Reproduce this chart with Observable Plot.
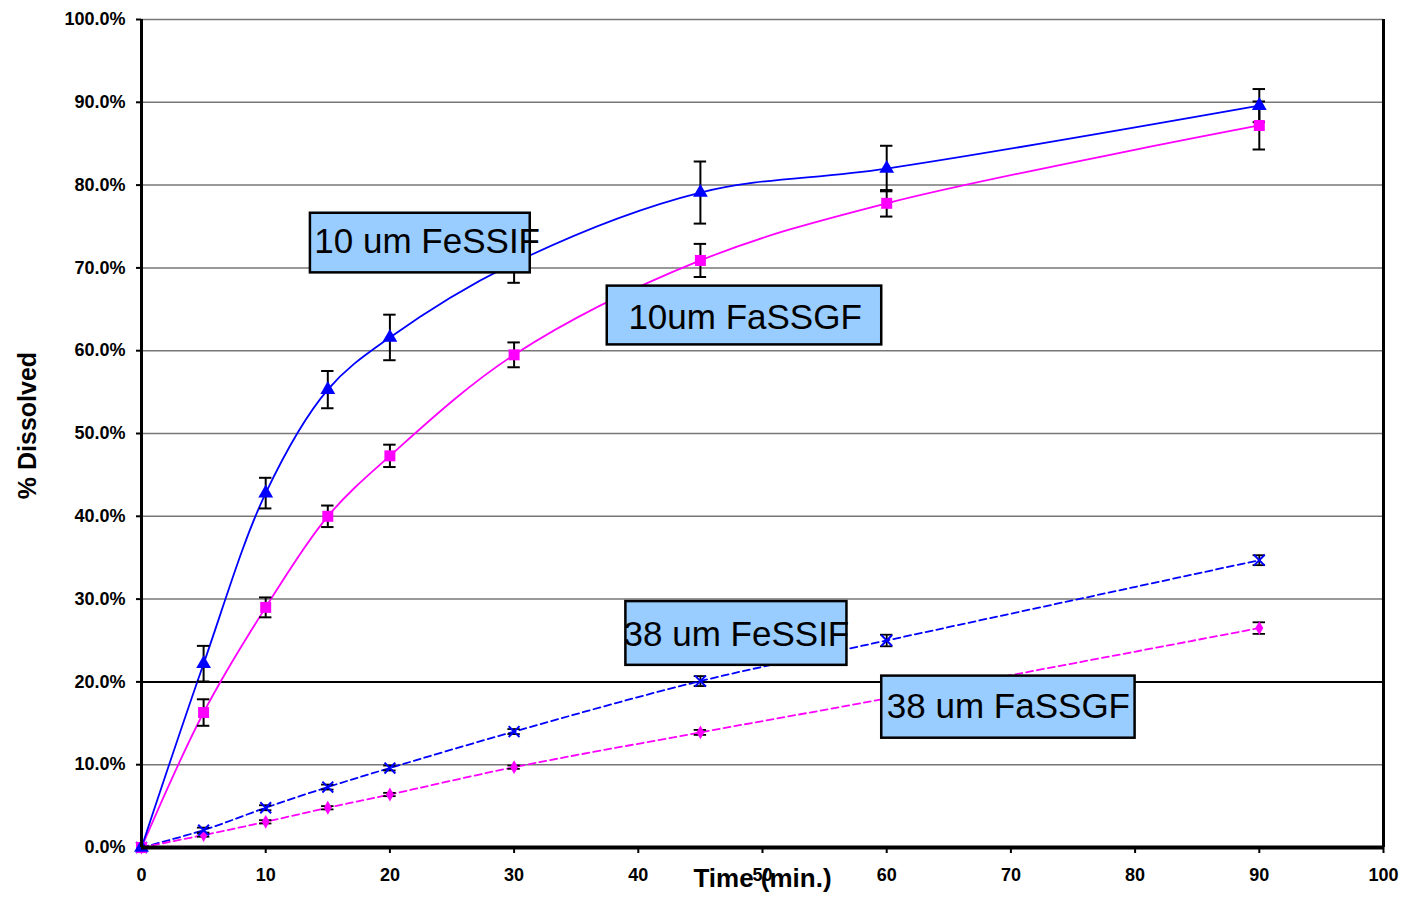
<!DOCTYPE html>
<html>
<head>
<meta charset="utf-8">
<script src="https://cdn.jsdelivr.net/npm/d3@7"></script>
<script src="https://cdn.jsdelivr.net/npm/@observablehq/plot@0.6"></script>
<style>
  html, body { margin: 0; padding: 0; background: #fff; }
  #chart svg { display: block; }
</style>
</head>
<body>
<div id="chart"></div>
<script>
// ---- data ----
const times = [0, 5, 10, 15, 20, 30, 45, 60, 90];
const fessif10    = [0, 22.2, 42.8, 55.3, 61.6, 70.6, 79.1, 82.0, 89.6];
const fessif10Err = [0, 2.15, 1.85, 2.25, 2.75, 2.4, 3.75, 2.75, 2.0];
const fassgf10    = [0, 16.3, 29.0, 40.0, 47.3, 59.5, 70.9, 77.8, 87.2];
const fassgf10Err = [0, 1.6, 1.2, 1.3, 1.35, 1.5, 2.0, 1.6, 2.9];
const fessif38    = [0, 2.1, 4.8, 7.3, 9.6, 14.0, 20.1, 25.0, 34.7];
const fessif38Err = [0, 0.3, 0.3, 0.3, 0.3, 0.3, 0.6, 0.7, 0.6];
const fassgf38    = [0, 1.5, 3.1, 4.8, 6.4, 9.7, 13.9, 18.0, 26.5];
const fassgf38Err = [0, 0.2, 0.2, 0.2, 0.2, 0.2, 0.3, 0.4, 0.7];

const xTicks = [0, 10, 20, 30, 40, 50, 60, 70, 80, 90, 100];
const yTicks = [0, 10, 20, 30, 40, 50, 60, 70, 80, 90, 100];

// annotation boxes (data units)
const labelText = ["10 um FeSSIF", "10um FaSSGF", "38 um FeSSIF", "38 um FaSSGF"];
const labelX1 = [13.6, 37.5, 39.0, 59.6];
const labelX2 = [31.3, 59.6, 56.8, 80.0];
const labelY1 = [69.4, 60.7, 22.0, 13.2];
const labelY2 = [76.6, 67.8, 29.7, 20.7];
const labelTX = [23.0, 48.6, 47.9, 69.8];
const labelTY = [73.1, 64.0, 25.7, 17.0];

// ---- build tables ----
const mk = (vals, errs) => times.map((t, i) => ({t, v: vals[i], e: errs[i]}));
const s1 = mk(fessif10, fessif10Err);
const s2 = mk(fassgf10, fassgf10Err);
const s3 = mk(fessif38, fessif38Err);
const s4 = mk(fassgf38, fassgf38Err);
const labels = labelText.map((text, i) => ({text, x1: labelX1[i], x2: labelX2[i], y1: labelY1[i], y2: labelY2[i], tx: labelTX[i], ty: labelTY[i]}));

const BLUE = "#0000ff", MAG = "#ff00ff";
const font = "'Liberation Sans', Arial, sans-serif";

function errMarks(data, w) {
  const d = data.filter(r => r.e > 0);
  return [
    Plot.ruleX(d, {x: "t", y1: r => r.v - r.e, y2: r => r.v + r.e, stroke: "black", strokeWidth: w}),
    Plot.ruleY(d, {y: r => r.v + r.e, x1: r => r.t - 0.5, x2: r => r.t + 0.5, stroke: "black", strokeWidth: w}),
    Plot.ruleY(d, {y: r => r.v - r.e, x1: r => r.t - 0.5, x2: r => r.t + 0.5, stroke: "black", strokeWidth: w})
  ];
}

const chart = Plot.plot({
  width: 1405,
  height: 904,
  marginLeft: 141,
  marginRight: 22,
  marginTop: 19,
  marginBottom: 57,
  style: {fontFamily: font, background: "white", color: "black"},
  x: {domain: [0, 100]},
  y: {domain: [0, 100]},
  marks: [
    Plot.ruleY(yTicks.filter(d => d > 0), {stroke: d => d === 20 ? "black" : "#777", strokeWidth: d => d === 20 ? 2 : 1.5}),
    Plot.ruleX([100], {stroke: "black", strokeWidth: 3}),
    Plot.axisY({ticks: yTicks, tickFormat: d => d.toFixed(1) + "%", tickSize: 5, tickPadding: 11, fontSize: 18, fontWeight: "bold", strokeWidth: 2, label: null}),
    Plot.axisX({ticks: xTicks, tickFormat: d => String(d), tickSize: 6, tickPadding: 15, fontSize: 18, fontWeight: "bold", strokeWidth: 2, label: null}),
    Plot.text(["% Dissolved"], {frameAnchor: "left", dx: -114, dy: -8, rotate: -90, textAnchor: "middle", fontSize: 25, fontWeight: "bold", fill: "black"}),
    Plot.text(["Time (min.)"], {frameAnchor: "bottom", dy: 39, fontSize: 26, fontWeight: "bold", fill: "black"}),

    // lines
    Plot.line(s3, {x: "t", y: "v", stroke: BLUE, strokeWidth: 1.8, strokeDasharray: "7,4", curve: "catmull-rom"}),
    Plot.line(s4, {x: "t", y: "v", stroke: MAG, strokeWidth: 1.8, strokeDasharray: "7,4", curve: "catmull-rom"}),
    Plot.line(s2, {x: "t", y: "v", stroke: MAG, strokeWidth: 1.8, curve: "catmull-rom"}),
    Plot.line(s1, {x: "t", y: "v", stroke: BLUE, strokeWidth: 1.8, curve: "catmull-rom"}),

    // error bars
    ...errMarks(s1, 2),
    ...errMarks(s2, 2),
    ...errMarks(s3, 1.8),
    ...errMarks(s4, 1.8),

    // markers
    Plot.dot(s4, {x: "t", y: "v", symbol: "diamond", r: 4.2, fill: MAG, stroke: "none"}),
    Plot.dot(s3, {x: "t", y: "v", symbol: "times", r: 5, stroke: BLUE, strokeWidth: 2}),
    Plot.dot(s2, {x: "t", y: "v", symbol: "square", r: 6.2, fill: MAG, stroke: "none"}),
    Plot.dot(s1, {x: "t", y: "v", symbol: "triangle", r: 5.5, fill: BLUE, stroke: "none"}),

    // axis lines
    Plot.ruleX([0], {stroke: "black", strokeWidth: 3}),
    Plot.ruleY([0], {stroke: "black", strokeWidth: 4}),

    // annotation boxes
    Plot.rect(labels, {x1: "x1", x2: "x2", y1: "y1", y2: "y2", fill: "#99ccff", stroke: "black", strokeWidth: 2.5}),
    Plot.text(labels, {x: "tx", y: "ty", text: "text", fontSize: 35, fill: "black", textAnchor: "middle"})
  ]
});

document.getElementById("chart").appendChild(chart);
</script>
</body>
</html>
